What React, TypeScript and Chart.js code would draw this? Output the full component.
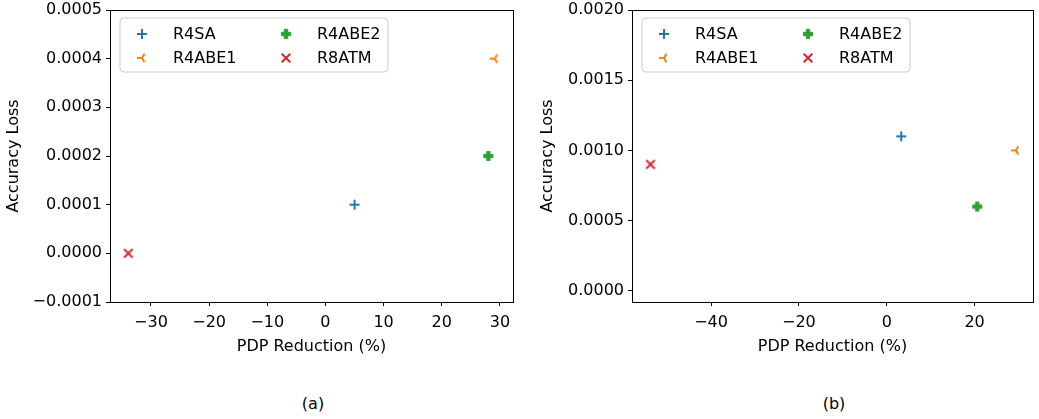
import React, { useEffect, useRef } from 'react';
import { Chart, registerables } from 'chart.js';

Chart.register(...registerables);

// ---------- data ----------
const seriesNames = ['R4SA', 'R4ABE1', 'R4ABE2', 'R8ATM'];
const seriesColors = ['#1f77b4', '#ff7f0e', '#2ca02c', '#d62728'];
const markerKinds = ['plus', 'tri_left', 'plus_filled', 'x'];

// panel (a)
const pdpReductionA = [5.0, 29.1, 28.0, -33.9];
const accuracyLossA = [0.0001, 0.0004, 0.0002, 0.0];
// panel (b)
const pdpReductionB = [3.3, 29.4, 20.6, -53.8];
const accuracyLossB = [0.0011, 0.001, 0.0006, 0.0009];

const xAxisTitle = 'PDP Reduction (%)';
const yAxisTitle = 'Accuracy Loss';
const captions = ['(a)', '(b)'];

const FONT_FAMILY = "'DejaVu Sans', sans-serif";
const FONT_SIZE = 16;

function makeMarker(kind: string, color: string): HTMLCanvasElement {
  const s = 16;
  const c = document.createElement('canvas');
  c.width = s;
  c.height = s;
  const ctx = c.getContext('2d')!;
  const m = s / 2;
  ctx.strokeStyle = color;
  ctx.fillStyle = color;
  ctx.lineWidth = 2;
  ctx.lineCap = 'butt';
  if (kind === 'plus') {
    const r = 5;
    ctx.beginPath();
    ctx.moveTo(m - r, m);
    ctx.lineTo(m + r, m);
    ctx.moveTo(m, m - r);
    ctx.lineTo(m, m + r);
    ctx.stroke();
  } else if (kind === 'tri_left') {
    const r = 5;
    ctx.beginPath();
    ctx.moveTo(m, m);
    ctx.lineTo(m - r, m);
    ctx.moveTo(m, m);
    ctx.lineTo(m + 0.5 * r, m - 0.866 * r);
    ctx.moveTo(m, m);
    ctx.lineTo(m + 0.5 * r, m + 0.866 * r);
    ctx.stroke();
  } else if (kind === 'plus_filled') {
    const r = 4.6;
    const w = 1.7;
    ctx.beginPath();
    ctx.moveTo(m - w, m - r);
    ctx.lineTo(m + w, m - r);
    ctx.lineTo(m + w, m - w);
    ctx.lineTo(m + r, m - w);
    ctx.lineTo(m + r, m + w);
    ctx.lineTo(m + w, m + w);
    ctx.lineTo(m + w, m + r);
    ctx.lineTo(m - w, m + r);
    ctx.lineTo(m - w, m + w);
    ctx.lineTo(m - r, m + w);
    ctx.lineTo(m - r, m - w);
    ctx.lineTo(m - w, m - w);
    ctx.closePath();
    ctx.fill();
    ctx.lineWidth = 1;
    ctx.lineJoin = 'miter';
    ctx.stroke();
  } else if (kind === 'x') {
    const r = 4.3;
    ctx.beginPath();
    ctx.moveTo(m - r, m - r);
    ctx.lineTo(m + r, m + r);
    ctx.moveTo(m - r, m + r);
    ctx.lineTo(m + r, m - r);
    ctx.stroke();
  }
  return c;
}

const fmt = (d: number) => (v: number | string) => {
  let n = Number(v);
  if (Math.abs(n) < 1e-12) n = 0;
  return (n < 0 ? '\u2212' : '') + Math.abs(n).toFixed(d);
};

type PanelCfg = {
  xs: number[];
  ys: number[];
  xMin: number;
  xMax: number;
  xStep: number;
  yMin: number;
  yMax: number;
  yStep: number;
  yDecimals: number;
  yWidth: number;
  padRight: number;
  yTitlePad: number;
};

const framePlugin = {
  id: 'frameBox',
  afterDatasetsDraw(chart: any) {
    const { ctx, chartArea } = chart;
    const l = Math.round(chartArea.left) + 0.5;
    const t = Math.round(chartArea.top) + 0.5;
    const r = Math.round(chartArea.right) + 0.5;
    const b = Math.round(chartArea.bottom) + 0.5;
    ctx.save();
    ctx.strokeStyle = '#000';
    ctx.lineWidth = 1;
    ctx.strokeRect(l, t, r - l, b - t);
    ctx.restore();
  },
};

function makeLegendPlugin(markers: HTMLCanvasElement[]) {
  return {
    id: 'innerLegend',
    afterDraw(chart: any) {
      const { ctx, chartArea } = chart;
      const x0 = chartArea.left + 10;
      const y0 = chartArea.top + 8;
      const w = 268;
      const h = 54;
      const rad = 4;
      ctx.save();
      ctx.beginPath();
      ctx.moveTo(x0 + rad, y0);
      ctx.lineTo(x0 + w - rad, y0);
      ctx.arcTo(x0 + w, y0, x0 + w, y0 + rad, rad);
      ctx.lineTo(x0 + w, y0 + h - rad);
      ctx.arcTo(x0 + w, y0 + h, x0 + w - rad, y0 + h, rad);
      ctx.lineTo(x0 + rad, y0 + h);
      ctx.arcTo(x0, y0 + h, x0, y0 + h - rad, rad);
      ctx.lineTo(x0, y0 + rad);
      ctx.arcTo(x0, y0, x0 + rad, y0, rad);
      ctx.closePath();
      ctx.fillStyle = 'rgba(255,255,255,0.8)';
      ctx.fill();
      ctx.strokeStyle = '#cccccc';
      ctx.lineWidth = 1;
      ctx.stroke();

      const colMarker = [chartArea.left + 32, chartArea.left + 176];
      const colText = [chartArea.left + 63, chartArea.left + 207];
      const rowY = [chartArea.top + 24, chartArea.top + 48];
      ctx.font = `${FONT_SIZE}px ${FONT_FAMILY}`;
      ctx.fillStyle = '#000';
      ctx.textAlign = 'left';
      ctx.textBaseline = 'middle';
      seriesNames.forEach((name, i) => {
        const col = Math.floor(i / 2);
        const row = i % 2;
        const mx = Math.round(colMarker[col]);
        const my = Math.round(rowY[row]);
        ctx.drawImage(markers[i], mx - 8, my - 8);
        ctx.fillText(name, colText[col], rowY[row] + 1);
      });
      ctx.restore();
    },
  };
}

function buildChart(canvas: HTMLCanvasElement, cfg: PanelCfg) {
  const markers = seriesNames.map((_, i) => makeMarker(markerKinds[i], seriesColors[i]));
  const font = { family: FONT_FAMILY, size: FONT_SIZE };
  const datasets = seriesNames.map((name, i) => ({
    label: name,
    data: [{ x: cfg.xs[i], y: cfg.ys[i] }],
    pointStyle: markers[i] as any,
    pointRadius: 6,
    backgroundColor: seriesColors[i],
    borderColor: seriesColors[i],
  }));
  return new Chart(canvas, {
    type: 'scatter',
    data: { datasets },
    options: {
      responsive: false,
      animation: false,
      devicePixelRatio: 1,
      layout: { autoPadding: false, padding: { top: 10, right: cfg.padRight, bottom: 0, left: 0 } },
      plugins: {
        legend: { display: false },
        tooltip: { enabled: false },
      },
      scales: {
        x: {
          type: 'linear',
          position: 'bottom',
          min: cfg.xMin,
          max: cfg.xMax,
          afterFit: (s: any) => {
            s.height = 58;
            s.paddingLeft = 0;
            s.paddingRight = 0;
          },
          ticks: {
            stepSize: cfg.xStep,
            includeBounds: false,
            callback: fmt(0),
            color: '#000',
            font,
            padding: 7,
            maxRotation: 0,
            autoSkip: false,
          },
          grid: {
            drawOnChartArea: false,
            drawTicks: true,
            tickLength: 4,
            color: '#000',
            tickColor: '#000',
            lineWidth: 1,
          },
          border: { display: false },
          title: {
            display: true,
            text: xAxisTitle,
            color: '#000',
            font,
            padding: { top: 0, bottom: 3.4 },
          },
        },
        y: {
          type: 'linear',
          position: 'left',
          min: cfg.yMin,
          max: cfg.yMax,
          afterFit: (s: any) => {
            s.width = cfg.yWidth;
            s.paddingTop = 0;
            s.paddingBottom = 0;
          },
          ticks: {
            stepSize: cfg.yStep,
            includeBounds: false,
            callback: fmt(cfg.yDecimals),
            color: '#000',
            font,
            padding: 4,
            autoSkip: false,
          },
          grid: {
            drawOnChartArea: false,
            drawTicks: true,
            tickLength: 4,
            color: '#000',
            tickColor: '#000',
            lineWidth: 1,
          },
          border: { display: false },
          title: {
            display: true,
            text: yAxisTitle,
            color: '#000',
            font,
            padding: { top: cfg.yTitlePad, bottom: 0 },
          },
        },
      },
    } as any,
    plugins: [framePlugin, makeLegendPlugin(markers)],
  });
}

const panelA: PanelCfg = {
  xs: pdpReductionA,
  ys: accuracyLossA,
  xMin: -37.05,
  xMax: 32.25,
  xStep: 10,
  yMin: -0.0001,
  yMax: 0.0005,
  yStep: 0.0001,
  yDecimals: 4,
  yWidth: 110,
  padRight: 7,
  yTitlePad: 4.5,
};

const panelB: PanelCfg = {
  xs: pdpReductionB,
  ys: accuracyLossB,
  xMin: -58,
  xMax: 33.3,
  xStep: 20,
  yMin: -0.00008,
  yMax: 0.002,
  yStep: 0.0005,
  yDecimals: 4,
  yWidth: 112,
  padRight: 6,
  yTitlePad: 18.5,
};

export default function App() {
  const refA = useRef<HTMLCanvasElement>(null);
  const refB = useRef<HTMLCanvasElement>(null);

  useEffect(() => {
    const a = buildChart(refA.current!, panelA);
    const b = buildChart(refB.current!, panelB);
    return () => {
      a.destroy();
      b.destroy();
    };
  }, []);

  const captionStyle: React.CSSProperties = {
    position: 'absolute',
    top: 395,
    width: 60,
    textAlign: 'center',
    fontFamily: FONT_FAMILY,
    fontSize: FONT_SIZE,
    lineHeight: '18px',
    color: '#000',
  };

  return (
    <div
      style={{
        position: 'fixed',
        left: 0,
        top: 0,
        width: 1039,
        height: 419,
        background: '#fff',
        overflow: 'hidden',
      }}
    >
      <canvas
        ref={refA}
        width={520}
        height={360}
        style={{ position: 'absolute', left: 0, top: 0, width: 520, height: 360 }}
      />
      <canvas
        ref={refB}
        width={519}
        height={360}
        style={{ position: 'absolute', left: 520, top: 0, width: 519, height: 360 }}
      />
      <div style={{ ...captionStyle, left: 313 - 30 }}>{captions[0]}</div>
      <div style={{ ...captionStyle, left: 834 - 30 }}>{captions[1]}</div>
    </div>
  );
}
